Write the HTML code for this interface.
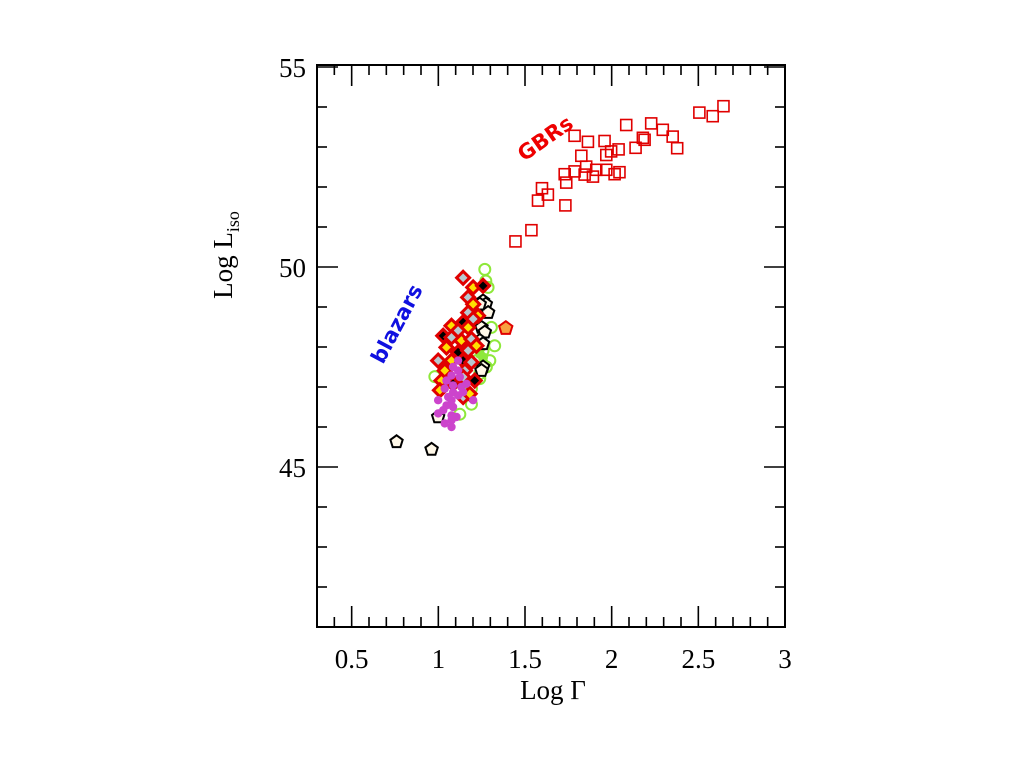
<!DOCTYPE html>
<html><head><meta charset="utf-8"><style>
html,body{margin:0;padding:0;background:#fff;}
svg{display:block;}
text{font-family:"Liberation Serif",serif;}
</style></head><body>
<svg id="chart" width="1024" height="768" viewBox="0 0 1024 768" xmlns="http://www.w3.org/2000/svg">
<rect x="0" y="0" width="1024" height="768" fill="#fff"/>
<g id="marks"></g>
<g id="axes"></g>
<text x="553" y="699" font-size="27" text-anchor="middle">Log  Γ</text>
<text transform="translate(232,255) rotate(-90)" font-size="27" text-anchor="middle">Log  L<tspan font-size="18" dy="7">iso</tspan></text>
<text transform="translate(524,162) rotate(-35)" font-size="21" font-weight="bold" fill="#e00" font-family="DejaVu Sans, sans-serif" style="font-family:'DejaVu Sans',sans-serif">GBRs</text>
<text transform="translate(383,365) rotate(-62)" font-size="21" font-weight="bold" fill="#1010e0" style="font-family:'DejaVu Sans',sans-serif">blazars</text>
</svg>
<script>
const xTicks=[0.5,1,1.5,2,2.5,3];
const xTickLabels=["0.5","1","1.5","2","2.5","3"];
const yTicks=[45,50,55];
const yTickLabels=["45","50","55"];
const grbX=[2.645,2.583,2.506,2.295,2.228,2.352,2.378,2.18,2.19,2.138,2.084,2.04,1.997,1.969,1.959,2.045,2.017,1.969,1.911,1.892,1.863,1.853,1.844,1.786,1.825,1.786,1.729,1.738,1.733,1.598,1.632,1.575,1.537,1.445];
const grbY=[54.02,53.77,53.86,53.43,53.59,53.26,52.97,53.23,53.18,52.98,53.55,52.94,52.89,52.80,53.15,52.37,52.32,52.43,52.43,52.26,53.13,52.51,52.31,53.28,52.78,52.39,52.32,52.11,51.54,51.97,51.81,51.66,50.92,50.64];
const greenX=[1.268,1.274,1.325,1.297,0.980,1.191,1.191,1.124,1.239,1.306,1.258,1.239,1.277,1.220,1.287];
const greenY=[49.94,49.65,48.03,47.66,47.26,46.96,46.57,46.32,47.21,48.49,47.91,47.33,47.50,47.66,49.49];
const greenFillX=[1.239,1.258,1.25,1.23,1.262];
const greenFillY=[47.83,47.74,48.0,47.95,47.6];
const pentX=[1.258,1.274,1.287,1.249,1.268,1.239,1.258,1.258,1.249,1.239,0.759,0.961,0.999];
const pentY=[49.15,49.07,48.86,48.49,48.37,48.16,48.08,47.50,47.41,49.07,45.63,45.44,46.25];
const diaX=[1.143,1.201,1.258,1.172,1.201,1.172,1.229,1.143,1.201,1.076,1.114,1.172,1.028,1.076,1.133,1.191,1.047,1.114,1.172,1.220,0.999,1.076,1.143,1.191,1.037,1.153,1.018,1.085,1.143,1.009,1.143,1.181,1.210];
const diaY=[49.73,49.49,49.53,49.24,49.07,48.86,48.78,48.62,48.70,48.53,48.41,48.49,48.28,48.24,48.16,48.20,47.99,47.87,47.91,48.03,47.66,47.66,47.66,47.62,47.41,47.41,47.16,47.08,47.25,46.92,46.75,46.83,47.16];
const magX=[1.114,1.085,1.114,1.076,1.124,1.047,1.085,1.133,1.037,1.085,1.114,0.999,1.076,1.201,1.047,1.085,0.999,1.076,1.037,1.076,1.162,1.105,1.028,1.076,1.143,1.057];
const magY=[47.66,47.50,47.41,47.29,47.25,47.16,47.04,47.00,46.96,46.87,46.79,46.67,46.67,46.67,46.54,46.50,46.34,46.29,46.09,46.00,47.08,46.25,46.42,46.17,46.87,46.75];
const specialX=[1.389];
const specialY=[48.47];

const L=317,R=785,T=65,B=627,XMIN=0.3,XMAX=3.0,YMIN=41.0,YMAX=55.05;
const sx=v=>L+(v-XMIN)/(XMAX-XMIN)*(R-L);
const sy=v=>B-(v-YMIN)/(YMAX-YMIN)*(B-T);
const NS='http://www.w3.org/2000/svg';
const marks=document.getElementById('marks');
const axes=document.getElementById('axes');
function mk(tag,attrs,parent){const e=document.createElementNS(NS,tag);for(const k in attrs)e.setAttribute(k,attrs[k]);parent.appendChild(e);return e;}
function pent(cx,cy,r){let p=[];for(let i=0;i<5;i++){const a=-Math.PI/2+i*2*Math.PI/5;p.push((cx+r*Math.cos(a)).toFixed(1)+','+(cy+r*Math.sin(a)).toFixed(1));}return p.join(' ');}

// green circles
greenX.forEach((x,i)=>{const e=mk('circle',{cx:sx(x),cy:sy(greenY[i]),r:5.5,fill:'none',stroke:'#8ee83a','stroke-width':2},marks);

});
greenFillX.forEach((x,i)=>{const e=mk('circle',{cx:sx(x),cy:sy(greenFillY[i]),r:5,fill:'#8ee83a'},marks);

});
// pentagons
pentX.forEach((x,i)=>{const e=mk('polygon',{points:pent(sx(x),sy(pentY[i]),6.5),fill:'#fff8e8',stroke:'#000','stroke-width':2},marks);

});
// diamonds
const fills=['#b8c8d0','#ffe000','#000','#b8c8d0','#ffe000'];
diaX.forEach((x,i)=>{const cx=sx(x),cy=sy(diaY[i]),r=6.5;
const e=mk('polygon',{points:`${cx},${cy-r} ${cx+r},${cy} ${cx},${cy+r} ${cx-r},${cy}`,fill:fills[i%5],stroke:'#e00000','stroke-width':3},marks);

});
// magenta
magX.forEach((x,i)=>{const e=mk('circle',{cx:sx(x),cy:sy(magY[i]),r:4.2,fill:'#cc44cc'},marks);

});
// special pentagon
specialX.forEach((x,i)=>{const e=mk('polygon',{points:pent(sx(x),sy(specialY[i]),7),fill:'#f8a040',stroke:'#e00000','stroke-width':2},marks);

});
// GRB squares
grbX.forEach((x,i)=>{const cx=sx(x),cy=sy(grbY[i]);const e=mk('rect',{x:cx-5.5,y:cy-5.5,width:11,height:11,fill:'none',stroke:'#e00000','stroke-width':1.6},marks);

});

// frame
const fr=mk('rect',{x:L,y:T,width:R-L,height:B-T,fill:'none',stroke:'#000','stroke-width':2},axes);


// x ticks
for(let k=3;k<=30;k++){const v=k/10;const X=sx(v);const major=(k%5===0);const len=major?21:10;
mk('line',{x1:X,y1:B,x2:X,y2:B-len,stroke:'#000','stroke-width':1.6},axes);
mk('line',{x1:X,y1:T,x2:X,y2:T+len,stroke:'#000','stroke-width':1.6},axes);}
xTicks.forEach((v,i)=>{const t=mk('text',{x:sx(v),y:B+41,'font-size':27,'text-anchor':'middle'},axes);t.textContent=xTickLabels[i];

});
// y ticks
for(let v=42;v<=55;v++){const Y=sy(v);const major=(v%5===0);const len=major?21:10;
mk('line',{x1:L,y1:Y,x2:L+len,y2:Y,stroke:'#000','stroke-width':1.6},axes);
mk('line',{x1:R,y1:Y,x2:R-len,y2:Y,stroke:'#000','stroke-width':1.6},axes);}
yTicks.forEach((v,i)=>{const t=mk('text',{x:L-11,y:sy(v)+10,'font-size':27,'text-anchor':'end'},axes);t.textContent=yTickLabels[i];

});
</script>
</body></html>
